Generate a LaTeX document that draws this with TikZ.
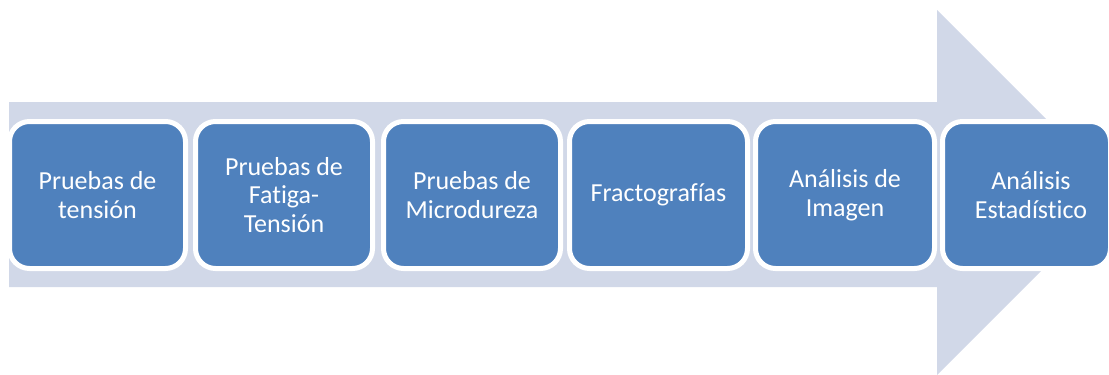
\documentclass[tikz,border=0pt]{standalone}
\usepackage{fontspec}
\setmainfont{Carlito}[Ligatures=NoCommon]
\definecolor{boxblue}{HTML}{4F81BD}
\definecolor{arrowgrey}{HTML}{D1D8E8}
\begin{document}
\begin{tikzpicture}[x=1pt,y=-1pt,
  stepbox/.style={draw=white, line width=5pt, fill=boxblue, rounded corners=20pt},
  steptext/.style={text=white, align=center, font=\fontsize{26}{28.5}\selectfont, inner sep=0pt}]
\useasboundingbox (0,0) rectangle (1109,375);
\clip (0,0) rectangle (1109,375);
% big arrow
\fill[arrowgrey] (9,102) -- (937,102) -- (937,10) -- (1119.5,192.5) -- (937,375) -- (937,287) -- (9,287) -- cycle;
% boxes
\draw[stepbox] (9.5,121.5) rectangle (185.5,268.5);
\draw[stepbox] (195.5,121.5) rectangle (372.5,268.5);
\draw[stepbox] (383.5,121.5) rectangle (560.5,268.5);
\draw[stepbox] (569.5,121.5) rectangle (747.5,268.5);
\draw[stepbox] (755.5,121.5) rectangle (934.5,268.5);
\draw[stepbox] (942.5,121.5) rectangle (1110.5,268.5);
\node[steptext] (t1) at (97.5,195) {Pruebas de\\tensión};
\node[steptext] (t2) at (284,195) {Pruebas de\\Fatiga-\\Tensión};
\node[steptext] (t3) at (472,195) {Pruebas de\\Microdureza};
\node[steptext] (t4) at (658.5,195) {Fractografías};
\node[steptext] (t5) at (845,195) {Análisis de\\Imagen};
\node[steptext] (t6) at (1031,195) {Análisis\\Estadístico};
\end{tikzpicture}
\end{document}
